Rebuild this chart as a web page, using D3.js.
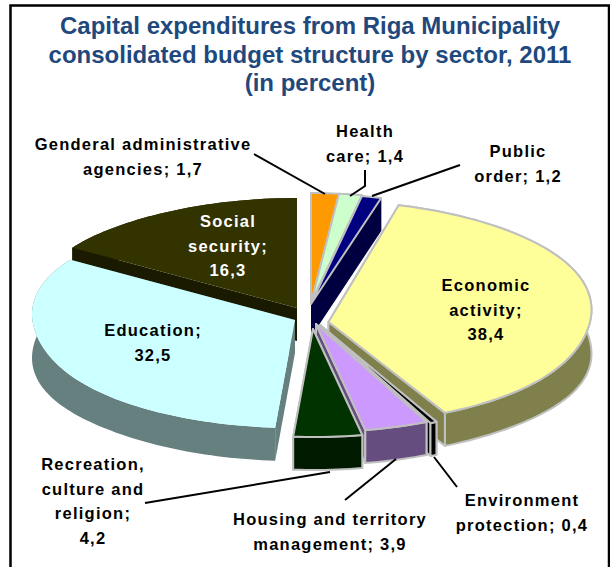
<!DOCTYPE html>
<html>
<head>
<meta charset="utf-8">
<script src="https://cdnjs.cloudflare.com/ajax/libs/d3/7.8.5/d3.min.js"></script>
<style>
html, body { margin: 0; padding: 0; background: #fff; overflow: hidden; }
svg { display: block; }
text { font-family: "Liberation Sans", Arial, sans-serif; font-weight: bold; }
</style>
</head>
<body>
<div id="chart"></div>
<script>
var categories = ["Genderal administrative agencies", "Health care", "Public order", "Economic activity",
    "Environment protection", "Housing and territory management", "Recreation, culture and religion",
    "Education", "Social security"];
var values = [1.7, 1.4, 1.2, 38.4, 0.4, 3.9, 4.2, 32.5, 16.3];

var topColors = ["#ff9900", "#ccffcc", "#000080", "#ffff99", "#000000", "#cc99ff", "#003300", "#ccffff", "#333300"];
var sideColors = ["#804d00", "#668066", "#000040", "#80804d", "#000000", "#664d80", "#001a00", "#668080", "#1a1a00"];
var outlines = ["#c0c0c0", "#c0c0c0", "#c0c0c0", "#c0c0c0", "#c0c0c0", "#c0c0c0", "#c0c0c0", "none", "none"];
var sideOutlines = ["none", "none", "none", "#c0c0c0", "#c0c0c0", "#c0c0c0", "#c0c0c0", "none", "none"];
var shiftX = [0, 0, 0, 17.5, 9, 5, 2, -16, -14];
var shiftY = [-13, -13, -12, 0, 9, 8, 13, 4, -8];
var apexDrop = [0, 0, 0, 6, 0, 0, 0, 0, 0];
var backRadius = [110, 110, 110, 115, 110, 110, 110, 110, 110];
var paintOrder = [8, 0, 1, 2, 3, 7, 4, 5, 6];

var titleLines = ["Capital expenditures from Riga Municipality", "consolidated budget structure by sector, 2011", "(in percent)"];
var labelLines = [
    ["Genderal administrative", "agencies; 1,7"], ["Health", "care; 1,4"], ["Public", "order; 1,2"],
    ["Economic", "activity;", "38,4"], ["Environment", "protection; 0,4"],
    ["Housing and territory", "management; 3,9"], ["Recreation,", "culture and", "religion;", "4,2"],
    ["Education;", "32,5"], ["Social", "security;", "16,3"]
];
var labelX = [143, 365, 518, 486, 522, 330, 93, 153, 228];
var labelY = [150, 137, 157, 291, 506, 525, 470, 336, 227];
var labelFill = ["#000", "#000", "#000", "#000", "#000", "#000", "#000", "#000", "#fff"];
var leaders = [
    [[254, 154], [325, 194]],
    [[365, 170], [365, 186], [350, 196]],
    [[460, 165], [372, 196]],
    [[457, 487], [434, 457]],
    [[345, 500], [396, 459]],
    [[145, 503], [330, 472]]
];

var width = 610, height = 567;
var cx = 311, cy = 316, rx = 263, ryBottom = 108;

var svg = d3.select("#chart").append("svg")
    .attr("width", width)
    .attr("height", height);

// the frame runs off the bottom of the picture
svg.append("rect")
    .attr("x", 10.5).attr("y", 5.5)
    .attr("width", 598.5).attr("height", 575)
    .attr("fill", "#fff")
    .attr("stroke", "#000")
    .attr("stroke-width", 2.5);

svg.selectAll(".title")
    .data(titleLines)
    .enter()
    .append("text")
    .attr("class", "title")
    .attr("x", 310)
    .attr("y", function (d, i) { return 34 + i * 28.5; })
    .attr("text-anchor", "middle")
    .style("font-size", "24px")
    .style("fill", "#1f497d")
    .text(function (d) { return d; });

var slices = d3.pie().sort(null).value(function (d) { return d; })(values);

// top of the pie, seen from above: the ellipse sits a bit higher at the sides
function rim(a, i) {
    var s = Math.abs(Math.sin(a)), c = Math.cos(a);
    return [cx + shiftX[i] + rx * Math.sin(a),
        cy + shiftY[i] - (c > 0 ? backRadius[i] : ryBottom) * c - 6 * Math.pow(s, c > 0 ? 4 : 12)];
}

function apex(i) {
    return [cx + shiftX[i], cy + shiftY[i] + apexDrop[i]];
}

function depth(a) {
    return 33 + 11 * Math.pow(Math.abs(Math.sin(a)), 8);
}

function arcPoints(d, i) {
    var n = Math.max(2, Math.ceil((d.endAngle - d.startAngle) * 40));
    return d3.range(n + 1).map(function (k) {
        return d.startAngle + (d.endAngle - d.startAngle) * k / n;
    });
}

var line = d3.line();

paintOrder.forEach(function (i) {
    var d = slices[i];
    var g = svg.append("g").attr("class", "slice");
    var angles = arcPoints(d, i);
    var c = apex(i);
    var a0 = rim(d.startAngle, i), a1 = rim(d.endAngle, i);
    var d0 = depth(d.startAngle), d1 = depth(d.endAngle);

    var faces = [
        [c, a0, [a0[0], a0[1] + d0], [c[0], c[1] + 33]],
        [c, a1, [a1[0], a1[1] + d1], [c[0], c[1] + 33]]
    ];
    faces.forEach(function (f) {
        g.append("path")
            .attr("d", line(f) + "Z")
            .attr("fill", sideColors[i])
            .attr("stroke", sideOutlines[i])
            .attr("stroke-width", 2)
            .attr("stroke-linejoin", "round");
    });

    var upper = angles.map(function (a) { return rim(a, i); });
    var lower = angles.map(function (a) {
        var p = rim(a, i);
        return [p[0], p[1] + depth(a)];
    }).reverse();
    g.append("path")
        .attr("d", line(upper.concat(lower)) + "Z")
        .attr("fill", sideColors[i])
        .attr("stroke", sideOutlines[i])
        .attr("stroke-width", 2)
        .attr("stroke-linejoin", "round");

    g.append("path")
        .attr("d", line([c].concat(upper)) + "Z")
        .attr("fill", topColors[i])
        .attr("stroke", outlines[i])
        .attr("stroke-width", 2)
        .attr("stroke-linejoin", "round");
});

svg.selectAll(".leader")
    .data(leaders)
    .enter()
    .append("path")
    .attr("class", "leader")
    .attr("d", function (d) { return line(d); })
    .attr("fill", "none")
    .attr("stroke", "#000")
    .attr("stroke-width", 2);

categories.forEach(function (name, i) {
    var t = svg.append("text")
        .attr("class", "label")
        .attr("text-anchor", "middle")
        .attr("data-name", name)
        .style("font-size", "16.5px")
        .style("letter-spacing", "1.25px")
        .style("fill", labelFill[i]);
    labelLines[i].forEach(function (s, k) {
        t.append("tspan")
            .attr("x", labelX[i])
            .attr("y", labelY[i] + k * 24.5)
            .text(s);
    });
});
</script>
</body>
</html>
